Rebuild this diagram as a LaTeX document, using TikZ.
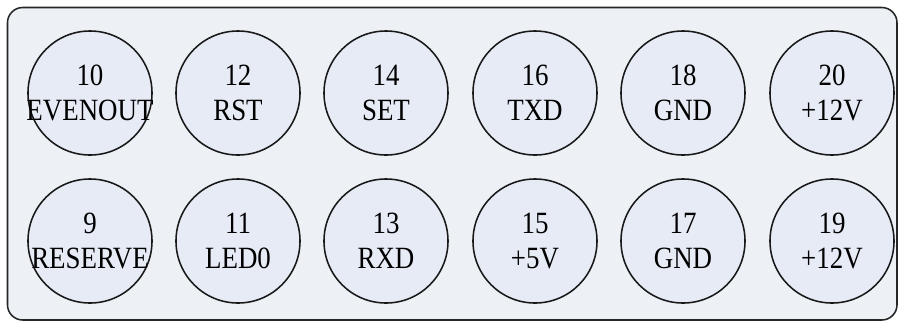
\documentclass[tikz,border=0pt]{standalone}
\usepackage{fontspec}
\setmainfont[FakeStretch=0.87]{Liberation Serif}
\usepackage{xcolor}
\usepackage{tikz}
\usetikzlibrary{positioning}

\definecolor{boardfill}{HTML}{EDF0F5}
\definecolor{pinfill}{HTML}{E7EBF6}

\begin{document}
\begin{tikzpicture}[
    x=0.025cm, y=-0.025cm,
    board/.style={
        draw=black!85,
        fill=boardfill,
        line width=1.1pt,
        rounded corners=0.38cm
    },
    pinhole/.style={
        circle,
        draw=black!90,
        fill=pinfill,
        line width=1.1pt,
        inner sep=0pt,
        minimum size=3.1cm
    },
    pintext/.style={
        align=center,
        inner sep=0pt,
        font=\fontsize{22}{25}\selectfont
    }
]

\useasboundingbox (0,0) rectangle (904,324);

\def\ya{93}
\def\yb{241}

% Board outline
\draw[board] (7.5,7.5) rectangle (897,320);

% Even row
\node[pinhole] (p10) at (90, \ya) {};
\node[pinhole] (p12) at (238,\ya) {};
\node[pinhole] (p14) at (386,\ya) {};
\node[pinhole] (p16) at (535,\ya) {};
\node[pinhole] (p18) at (683,\ya) {};
\node[pinhole] (p20) at (832,\ya) {};

% Odd row
\node[pinhole] (p9)  at (90, \yb) {};
\node[pinhole] (p11) at (238,\yb) {};
\node[pinhole] (p13) at (386,\yb) {};
\node[pinhole] (p15) at (535,\yb) {};
\node[pinhole] (p17) at (683,\yb) {};
\node[pinhole] (p19) at (832,\yb) {};

% Pin labels
\node[pintext] (t10) at (p10) {10\\EVENOUT};
\node[pintext] (t12) at (p12) {12\\RST};
\node[pintext] (t14) at (p14) {14\\SET};
\node[pintext] (t16) at (p16) {16\\TXD};
\node[pintext] (t18) at (p18) {18\\GND};
\node[pintext] (t20) at (p20) {20\\+12V};

\node[pintext] (t9)  at (p9)  {9\\RESERVE};
\node[pintext] (t11) at (p11) {11\\LED0};
\node[pintext] (t13) at (p13) {13\\RXD};
\node[pintext] (t15) at (p15) {15\\+5V};
\node[pintext] (t17) at (p17) {17\\GND};
\node[pintext] (t19) at (p19) {19\\+12V};

\end{tikzpicture}
\end{document}
